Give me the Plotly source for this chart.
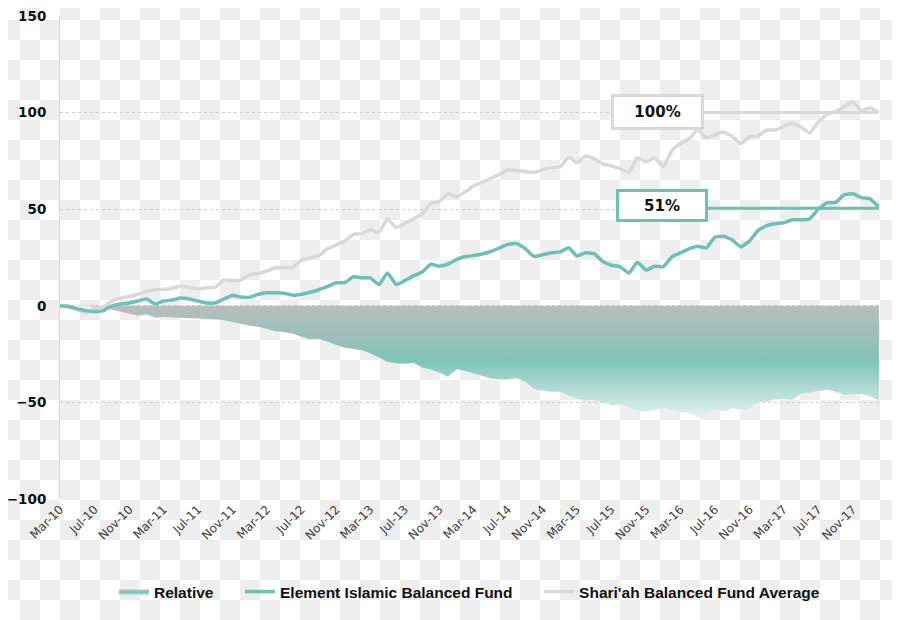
import base64
import pandas as pd
import plotly.graph_objects as go

# ---------------- data (% cumulative) ----------------
months = pd.date_range("2010-03-01", periods=96, freq="MS")

shariah_avg = [0, 0, -2, -3.6, -1.5, -0.5, 2.5, 4, 4.8, 6,
               7.5, 8.3, 8.5, 9, 10.2, 9.5, 8.8, 9.3, 9.6, 13.4,
               13, 13.5, 16, 16.8, 18, 19.7, 19.7, 19.9, 23.6, 24.8,
               26, 29.5, 31.5, 33.5, 37, 37.5, 39.5, 38, 45, 40.5,
               42.5, 45, 47.5, 53, 54, 58, 56.5, 59, 62, 64,
               66, 68, 70.3, 70, 69.5, 69, 70.5, 71.5, 72, 77,
               74, 77.5, 76, 73.5, 72.5, 71, 69, 76.5, 74.5, 76.5,
               72, 80.5, 84, 86.5, 91, 87, 88.5, 90, 87.5, 84,
               87.5, 88, 91, 91, 93, 94.5, 92.5, 89.5, 95, 99,
               100.5, 103, 105.5, 101, 102.4, 100]

element_fund = [0, -0.5, -1.5, -2.5, -3, -2.5, 0, 1, 1.5, 2.5,
                3.5, 1, 2.5, 3, 4, 3.5, 2.5, 1.5, 1.5, 3.5,
                5.5, 4.5, 4.5, 6, 6.7, 6.7, 6.5, 5.5, 6, 7,
                8.3, 10, 11.9, 12, 15, 14.5, 14.5, 11, 17, 11,
                13, 15.5, 17.5, 21.5, 20.5, 21.5, 24, 25.5, 26, 26.8,
                28, 30, 31.8, 32.2, 29.5, 25.5, 26.5, 27.5, 27.9, 30,
                25.8, 27.5, 27, 23, 21, 20.2, 17, 22.5, 18.5, 20.5,
                20.2, 25.5, 27.4, 29.5, 30.8, 30, 35.5, 36, 34, 30.5,
                33.6, 39, 41.5, 42.6, 43, 44.5, 44.5, 45, 50, 53.3,
                53.5, 57.5, 58, 56, 55.3, 51]

relative = [0, 0, 0, 0, -0.5, -1, -2, -3, -4, -5,
            -4.5, -6.2, -5.8, -6, -6.2, -6.3, -6.3, -6.7, -7, -7.5,
            -8.5, -9.3, -10.3, -10.8, -12, -13.2, -13.6, -14.5, -16, -17.3,
            -17, -18.5, -20, -21.7, -22.3, -23, -24.6, -27, -29, -29.7,
            -30, -29.5, -32, -33, -34.5, -36.7, -32.8, -33.7, -35, -36.6,
            -37.6, -38, -38, -37.2, -39.5, -43, -44, -44.5, -44.5, -46.5,
            -48, -49, -48.6, -50.2, -51.5, -51.2, -52.5, -54.3, -54.8, -54,
            -52.8, -53.7, -55, -55.3, -57.5, -55.5, -53.5, -54.8, -53, -53.8,
            -53, -49.5, -49.7, -48.2, -48.3, -48.6, -45.5, -44.7, -44.2, -43.4,
            -44.5, -46, -45.8, -45.5, -47, -49]

tick_dates = pd.date_range("2010-03-01", "2017-11-01", freq="4MS")
y_ticks = [-100, -50, 0, 50, 100, 150]

label_avg_value = 100
label_fund_value = 51
label_avg_text = "100%"
label_fund_text = "51%"

# ---------------- styling ----------------
TEAL = "#6fc0b1"
LGRAY = "#d9d9d9"
OFF = 8                      # page body margin in the browser
W, H = 900 - OFF, 620 - OFF
ML, MR, MT, MB = 60 - OFF, 21, 16 - OFF, 121
PW, PH = W - ML - MR, H - MT - MB
SP = "\u00a0" * 5

fig = go.Figure()

fig.add_trace(go.Scatter(
    x=months, y=relative, name="Relative" + SP, mode="lines",
    line=dict(width=0, color="#9fc7c0"), fill="tozeroy",
    fillcolor="#9cc6bf",
    fillgradient=dict(type="vertical", start=-58, stop=0,
                      colorscale=[[0, "#e4f3f0"], [0.5, "#80c4b8"], [1, "#babcbc"]]),
    legendrank=1, hoverinfo="skip"))

fig.add_trace(go.Scatter(
    x=months, y=shariah_avg, name="Shari'ah Balanced Fund Average", mode="lines",
    line=dict(color=LGRAY, width=3.5, shape="spline", smoothing=0.4),
    legendrank=3))

fig.add_trace(go.Scatter(
    x=months, y=element_fund, name="Element Islamic Balanced Fund" + SP, mode="lines",
    line=dict(color=TEAL, width=3.5, shape="spline", smoothing=0.4),
    legendrank=2))

# leader lines for the end labels
last = months[-1]
fig.add_shape(type="line", xref="x", yref="y", x0="2016-05-20", x1=last,
              y0=label_avg_value, y1=label_avg_value, line=dict(color=LGRAY, width=3))
fig.add_shape(type="line", xref="x", yref="y", x0="2016-06-01", x1=last,
              y0=label_fund_value - 0.5, y1=label_fund_value - 0.5, line=dict(color=TEAL, width=3))

fig.add_annotation(x="2015-12-13", y=label_avg_value + 0.5, xref="x", yref="y",
                   text=label_avg_text, showarrow=False, width=87, height=30,
                   bgcolor="white", bordercolor=LGRAY, borderwidth=3, borderpad=0,
                   font=dict(family="DejaVu Sans", size=15, color="#111", weight="bold"))
fig.add_annotation(x="2015-12-28", y=label_fund_value + 1, xref="x", yref="y",
                   text=label_fund_text, showarrow=False, width=86, height=27,
                   bgcolor="white", bordercolor=TEAL, borderwidth=3, borderpad=0,
                   font=dict(family="DejaVu Sans", size=15, color="#111", weight="bold"))

# checkerboard backdrop (as in the reference picture), phase matched to the page
svg = ("<svg xmlns='http://www.w3.org/2000/svg' width='%d' height='%d'>"
       "<defs><pattern id='p' x='-%d' y='-%d' width='40' height='40' patternUnits='userSpaceOnUse'>"
       "<rect width='40' height='40' fill='#ffffff'/>"
       "<rect x='20' y='0' width='20' height='20' fill='#eeeeee'/>"
       "<rect x='0' y='20' width='20' height='20' fill='#eeeeee'/>"
       "</pattern></defs><rect width='%d' height='%d' fill='url(#p)'/></svg>") % (W, H, OFF, OFF, W, H)
src = "data:image/svg+xml;base64," + base64.b64encode(svg.encode()).decode()
fig.add_layout_image(source=src, xref="paper", yref="paper",
                     x=-ML / PW, y=1 + MT / PH, sizex=W / PW, sizey=H / PH,
                     xanchor="left", yanchor="top", sizing="stretch", layer="below")

fig.update_layout(
    width=W, height=H, margin=dict(l=ML, r=MR, t=MT, b=MB, autoexpand=False),
    paper_bgcolor="white", plot_bgcolor="rgba(0,0,0,0)",
    showlegend=True,
    legend=dict(orientation="h", x=0.5, xanchor="center", y=(PH - (592 - 16)) / PH,
                yanchor="middle", font=dict(family="Liberation Sans", size=15.5,
                                            color="#111", weight="bold"),
                bgcolor="rgba(0,0,0,0)", itemwidth=30),
    xaxis=dict(type="date", range=[months[0], last], automargin=False,
               tickvals=list(tick_dates), tickformat="%b-%y", tickangle=-45,
               tickfont=dict(family="DejaVu Sans", size=12, color="#404040"),
               showgrid=False, showline=False, zeroline=False, ticks=""),
    yaxis=dict(range=[-100, 150], tickvals=y_ticks, showgrid=True, automargin=False,
               gridcolor="#cfcfcf", griddash="dot", gridwidth=1,
               zeroline=False, showline=True, linecolor=LGRAY, linewidth=1,
               ticks="", ticklabelstandoff=10, ticklabeloverflow="allow",
               tickfont=dict(family="DejaVu Sans", size=13.5, color="#111", weight="bold")),
)

fig.write_html("out.html")
